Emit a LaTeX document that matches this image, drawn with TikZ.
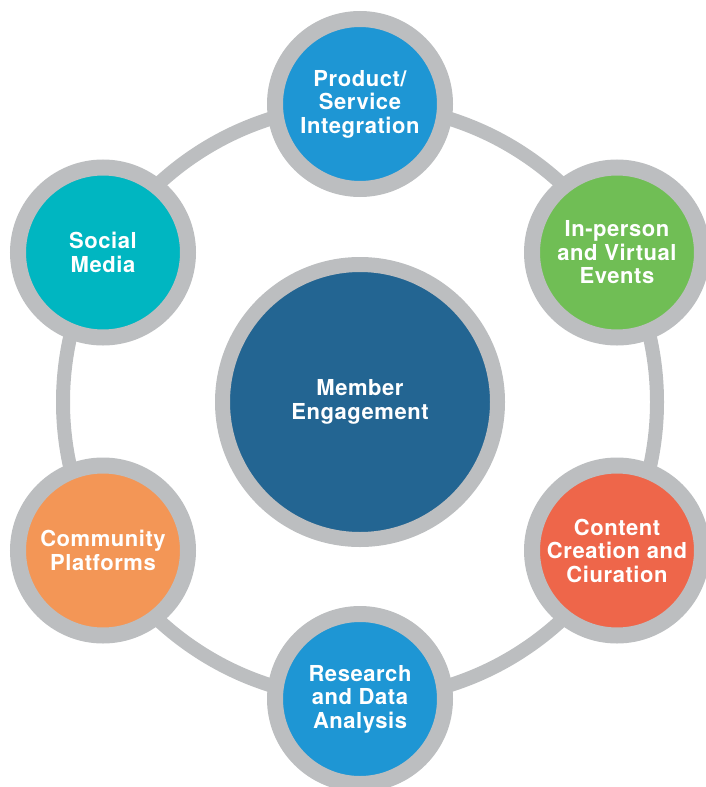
\documentclass[tikz,border=0pt]{standalone}
\usepackage{fontspec}
\setmainfont{TeX Gyre Heros}[LetterSpace=2.5]
\definecolor{ringgray}{HTML}{BCBEC0}
\definecolor{cblue}{HTML}{1E96D4}
\definecolor{cgreen}{HTML}{70BE55}
\definecolor{cteal}{HTML}{00B6C1}
\definecolor{corange}{HTML}{F39656}
\definecolor{cred}{HTML}{EE664A}
\definecolor{cnavy}{HTML}{236592}
\tikzset{
  ringline/.style={draw=ringgray, line width=14pt},
  bubble/.style={circle, draw=ringgray, line width=16pt, minimum size=170pt, inner sep=0pt,
    text=white, align=center, font=\fontsize{22}{23.5}\selectfont\bfseries},
  hub/.style={bubble, minimum size=275pt, line width=15pt}
}
\begin{document}
\begin{tikzpicture}[x=1pt,y=-1pt]
\useasboundingbox (0,0) rectangle (706,787);
\clip (0,0) rectangle (706,787);
\coordinate (O) at (360,402);
\draw[ringline] (O) circle[radius=297pt];
\node[hub, fill=cnavy] (mem) at (O) {Member\\Engagement};
\node[bubble, fill=cblue] (prod) at (360,104) {Product/\\Service\\Integration};
\node[bubble, fill=cgreen] (event) at (617,252.5) {In-person\\and Virtual\\Events};
\node[bubble, fill=cred] (cont) at (617,550.5) {Content\\Creation and\\Ciuration};
\node[bubble, fill=cblue] (res) at (360,699) {Research\\and Data\\Analysis};
\node[bubble, fill=corange] (comm) at (103,550.5) {Community\\Platforms};
\node[bubble, fill=cteal] (soc) at (103,252.5) {Social\\Media};
\end{tikzpicture}
\end{document}
